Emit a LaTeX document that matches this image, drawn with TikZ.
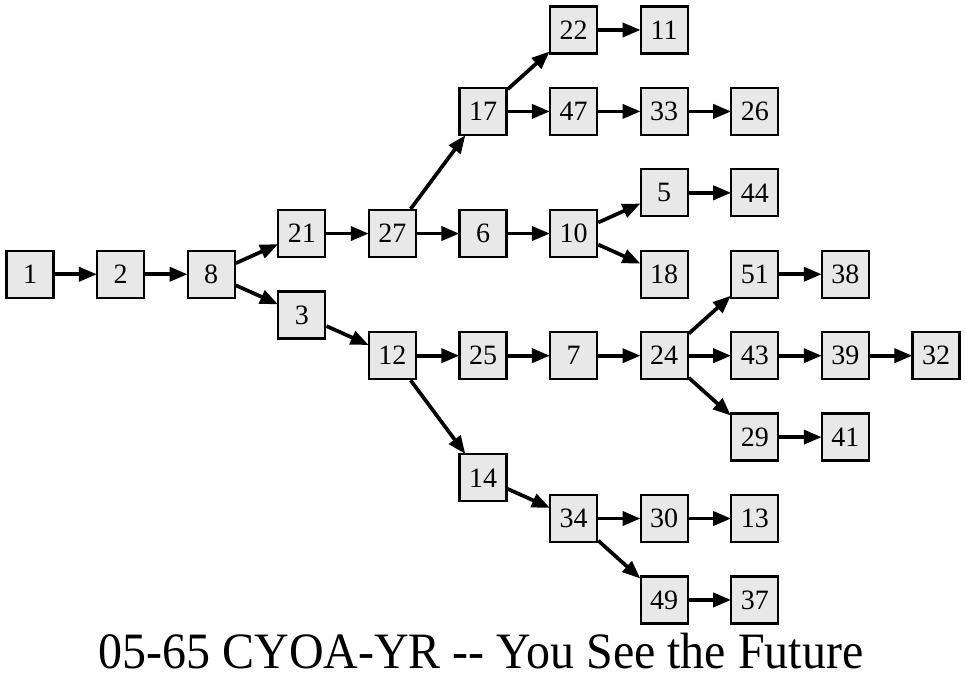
\documentclass[tikz,border=0pt]{standalone}
\usepackage{fontspec}
\setmainfont{Liberation Serif}
\usetikzlibrary{arrows.meta}
\begin{document}
\begin{tikzpicture}[x=1pt,y=-1pt,
  box/.style={draw=black,line width=2.3pt,fill=gray!18,minimum width=47pt,minimum height=47pt,inner sep=0pt,font=\fontsize{28}{30}\selectfont},
  edge/.style={line width=3.7pt,-{Triangle[length=18pt,width=14pt]},shorten >=-1pt}]
\useasboundingbox (0,0) rectangle (965,687);
\def\h{40.71}
\foreach \n/\c/\r in {1/0/6,2/1/6,8/2/6,21/3/5,3/3/7,27/4/5,12/4/8,17/5/2,6/5/5,25/5/8,14/5/11,
  22/6/0,47/6/2,10/6/5,7/6/8,34/6/12,11/7/0,33/7/2,5/7/4,18/7/6,24/7/8,30/7/12,49/7/14,
  26/8/2,44/8/4,51/8/6,43/8/8,29/8/10,13/8/12,37/8/14,38/9/6,39/9/8,41/9/10,32/10/8}
  \node[box] (n\n) at ({30+\c*90.6},{30+\r*\h}) {\n};
\foreach \a/\b in {1/2,2/8,8/21,8/3,21/27,3/12,27/17,27/6,6/10,17/22,17/47,22/11,47/33,33/26,
  10/5,10/18,5/44,12/25,12/14,25/7,7/24,24/51,24/43,24/29,51/38,43/39,39/32,29/41,14/34,34/30,34/49,30/13,49/37}
  \draw[edge] (n\a) -- (n\b);
\node[font=\fontsize{51}{56}\selectfont,inner sep=0pt,anchor=base] (title) at (481,668) {\scalebox{0.94}[1]{05-65 CYOA-YR -{}- You See the Future}};
\end{tikzpicture}
\end{document}
